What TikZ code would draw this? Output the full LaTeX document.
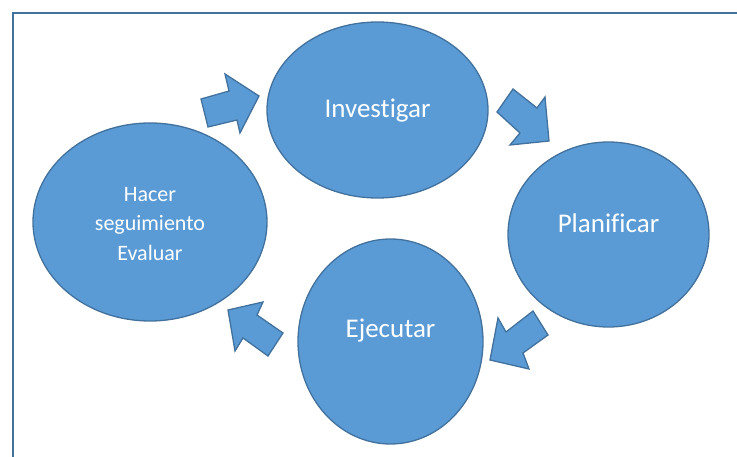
\documentclass[tikz,border=0pt]{standalone}
\usepackage{fontspec}
\setmainfont[Ligatures={NoCommon}]{Carlito}
\usetikzlibrary{shapes.geometric}
\definecolor{fillblue}{HTML}{5B9BD5}
\definecolor{edgeblue}{HTML}{41719C}
\tikzset{
  bubble/.style={ellipse, fill=fillblue, draw=edgeblue, line width=1.3pt, inner sep=0pt},
  bigtext/.style={text=white, font=\fontsize{27}{32}\selectfont},
  smalltext/.style={text=white, align=center, font=\fontsize{22}{29.5}\selectfont},
  blockarrow/.style={fill=fillblue, draw=edgeblue, line width=1.3pt, line join=miter},
  frameline/.style={draw=edgeblue, line width=2.6pt}
}
\begin{document}
\begin{tikzpicture}[x=1pt,y=-1pt]
\useasboundingbox (0,0) rectangle (737,457);
\draw[frameline] (13,470) -- (13,13) -- (750,13);

\node[bubble, minimum width=221pt, minimum height=176pt] (inv) at (377.5,110) {};
\node[bubble, minimum width=201pt, minimum height=185pt] (pla) at (608.5,234.5) {};
\node[bubble, minimum width=185pt, minimum height=205pt] (eje) at (390.5,341.5) {};
\node[bubble, minimum width=234pt, minimum height=198pt] (hac) at (150,222) {};

\node[bigtext] (invt) at (377.5,111) {Investigar};
\node[bigtext] (plat) at (608.5,223) {Planificar};
\node[bigtext] (ejet) at (390.5,331) {Ejecutar};
\node[smalltext] (hact) at (150,224) {Hacer\\seguimiento\\Evaluar};

% block arrows
\draw[blockarrow] (208,127) -- (201,99) -- (229,91) -- (225,74) -- (259,96) -- (240,133) -- (237,120) -- cycle;
\draw[blockarrow] (497,112) -- (513,89) -- (537,108) -- (545,97) -- (549,141) -- (510,145) -- (520,133) -- cycle;
\draw[blockarrow] (533,311) -- (548,335) -- (523,353) -- (529,369) -- (490,360) -- (498,318) -- (506,332) -- cycle;
\draw[blockarrow] (283,333) -- (268,356) -- (243,338) -- (235,351) -- (228,310) -- (263,302) -- (257,315) -- cycle;
\end{tikzpicture}
\end{document}
